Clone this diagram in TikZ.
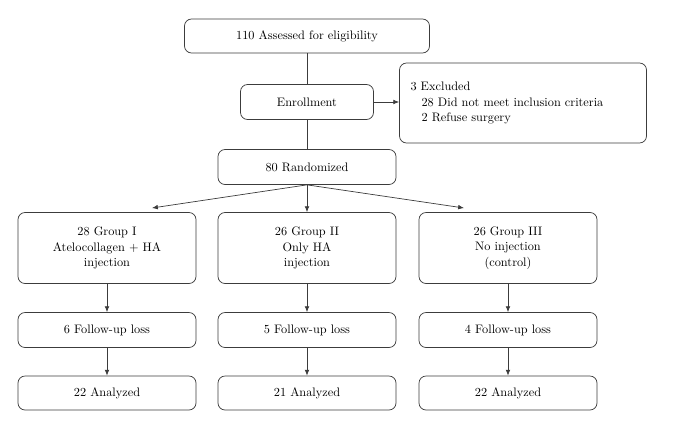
\documentclass[tikz,border=0pt]{standalone}
\usepackage{xcolor}
\usetikzlibrary{positioning, calc, arrows.meta}
\definecolor{lineg}{RGB}{60,60,60}

\begin{document}
\begin{tikzpicture}[
    x=0.03cm, y=-0.03cm,
    box/.style={rectangle, rounded corners=6pt, draw=lineg, line width=0.6pt, fill=white, align=center, inner sep=2pt, font=\fontsize{10.5}{13}\selectfont},
    grpbox/.style={box, minimum width=5.34cm, minimum height=1.05cm},
    arrow/.style={-{Latex[length=5pt,width=4pt]}, line width=0.6pt, color=lineg},
    link/.style={line width=0.6pt, color=lineg}
]
    \useasboundingbox (0,0) rectangle (674,421);

    \node[box, minimum width=7.35cm, minimum height=1.02cm] (assessed) at (307,36) {110 Assessed for eligibility};
    \node[box, minimum width=3.99cm, minimum height=1.05cm] (enroll) at (307,102) {Enrollment};
    \node[box, minimum width=7.41cm, minimum height=2.4cm, text width=6.75cm, align=left, inner xsep=0.33cm] (excluded) at (523,103) {3 Excluded\\
        \hspace*{0.9em}28 Did not meet inclusion criteria\\
        \hspace*{0.9em}2 Refuse surgery};
    \node[grpbox] (random) at (307,167) {80 Randomized};

    \node[grpbox, minimum height=2.13cm] (group1) at (107,248) {28 Group I\\Atelocollagen + HA\\injection};
    \node[grpbox, minimum height=2.13cm] (group2) at (307,248) {26 Group II\\Only HA\\injection};
    \node[grpbox, minimum height=2.13cm] (group3) at (508,248) {26 Group III\\No injection\\(control)};

    \node[grpbox] (loss1) at (107,330) {6 Follow-up loss};
    \node[grpbox] (loss2) at (307,330) {5 Follow-up loss};
    \node[grpbox] (loss3) at (508,330) {4 Follow-up loss};

    \node[grpbox, minimum height=1.02cm] (ana1) at (107,393) {22 Analyzed};
    \node[grpbox, minimum height=1.02cm] (ana2) at (307,393) {21 Analyzed};
    \node[grpbox, minimum height=1.02cm] (ana3) at (508,393) {22 Analyzed};

    \coordinate (tip1) at (152,208);
    \coordinate (tip3) at (464,208);

    \draw[link] (assessed.south) -- (enroll.north);
    \draw[link] (enroll.south) -- (random.north);
    \draw[arrow] (enroll.east) -- (enroll.east -| excluded.west);

    \draw[arrow] (random.south) -- (tip1);
    \draw[arrow] (random.south) -- (group2.north);
    \draw[arrow] (random.south) -- (tip3);

    \draw[arrow] (group1.south) -- (loss1.north);
    \draw[arrow] (group2.south) -- (loss2.north);
    \draw[arrow] (group3.south) -- (loss3.north);
    \draw[arrow] (loss1.south) -- (ana1.north);
    \draw[arrow] (loss2.south) -- (ana2.north);
    \draw[arrow] (loss3.south) -- (ana3.north);
\end{tikzpicture}
\end{document}
